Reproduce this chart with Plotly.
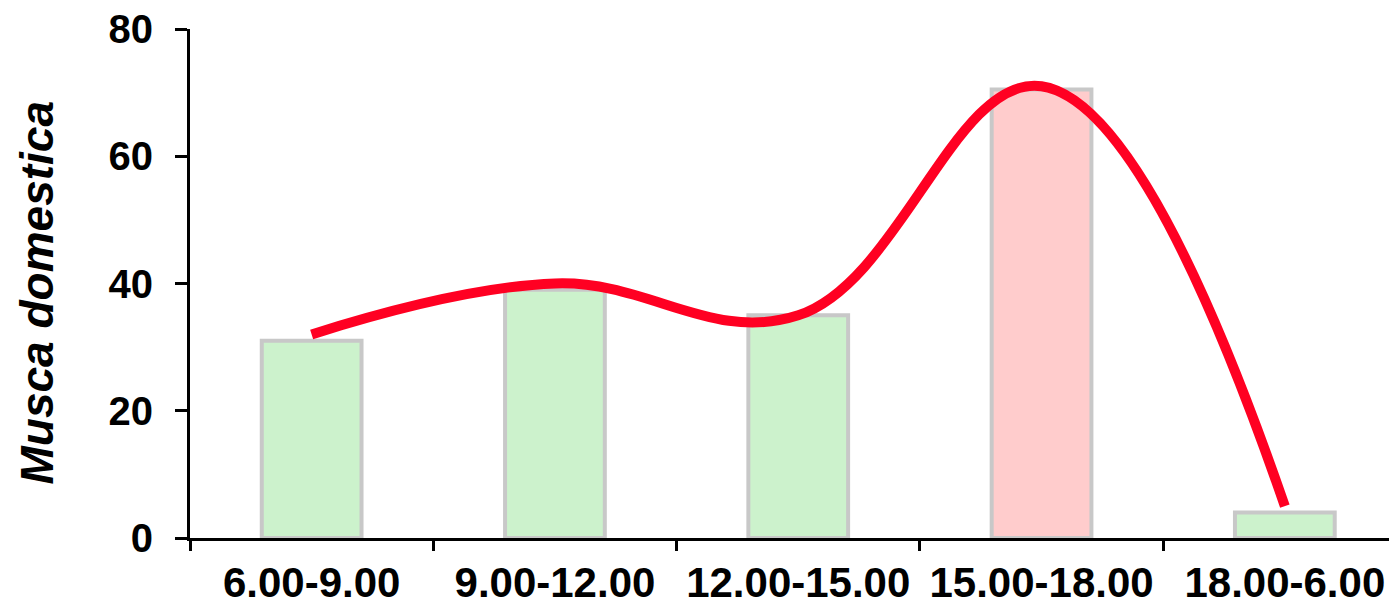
import plotly.graph_objects as go

categories = ["6.00-9.00", "9.00-12.00", "12.00-15.00", "15.00-18.00", "18.00-6.00"]
bar_values = [31, 39, 35, 70.5, 4]
line_values = [32, 40, 35, 71, 5]
bar_colors = ["#CCF2CC", "#CCF2CC", "#CCF2CC", "#FFCCCC", "#CCF2CC"]
y_ticks = [0, 20, 40, 60, 80]
y_title = "Musca domestica"

font_family = "Liberation Sans, Arial, sans-serif"

fig = go.Figure()
fig.add_trace(go.Bar(
    x=categories, y=bar_values, width=0.41,
    marker=dict(color=bar_colors, line=dict(color="#C8C8C8", width=4)),
    showlegend=False,
))
fig.add_trace(go.Scatter(
    x=categories, y=line_values, mode="lines",
    line=dict(color="#FF0022", width=10, shape="spline", smoothing=1.15),
    showlegend=False,
))

# page has an 8px body margin, so the figure is 8px smaller than the window
fig.update_layout(
    width=1389, height=599,
    margin=dict(l=182, r=0, t=21, b=69),
    plot_bgcolor="white", paper_bgcolor="white",
    font=dict(family=font_family, color="black"),
)
fig.update_xaxes(
    type="category", range=[-0.5, 4.461], automargin=False,
    showline=True, linecolor="black", linewidth=3,
    ticks="outside", tickson="boundaries", ticklen=10, tickwidth=3, tickcolor="black",
    tickfont=dict(size=42, weight="bold", family=font_family),
    ticklabelstandoff=6, ticklabeloverflow="allow",
    showgrid=False, zeroline=False,
)
fig.update_yaxes(
    range=[0, 80], tickvals=y_ticks, automargin=False,
    showline=True, linecolor="black", linewidth=3,
    ticks="outside", ticklen=12, tickwidth=3, tickcolor="black",
    tickfont=dict(size=40, weight="bold", family=font_family),
    ticklabelstandoff=14, ticklabeloverflow="allow",
    showgrid=False, zeroline=False,
)
fig.add_annotation(
    text=y_title, textangle=-90, showarrow=False,
    xref="paper", yref="paper", x=-0.1268, y=0.4823,
    xanchor="center", yanchor="middle", borderpad=0,
    font=dict(size=46, weight="bold", style="italic", family=font_family),
)

fig.write_html("out.html")
